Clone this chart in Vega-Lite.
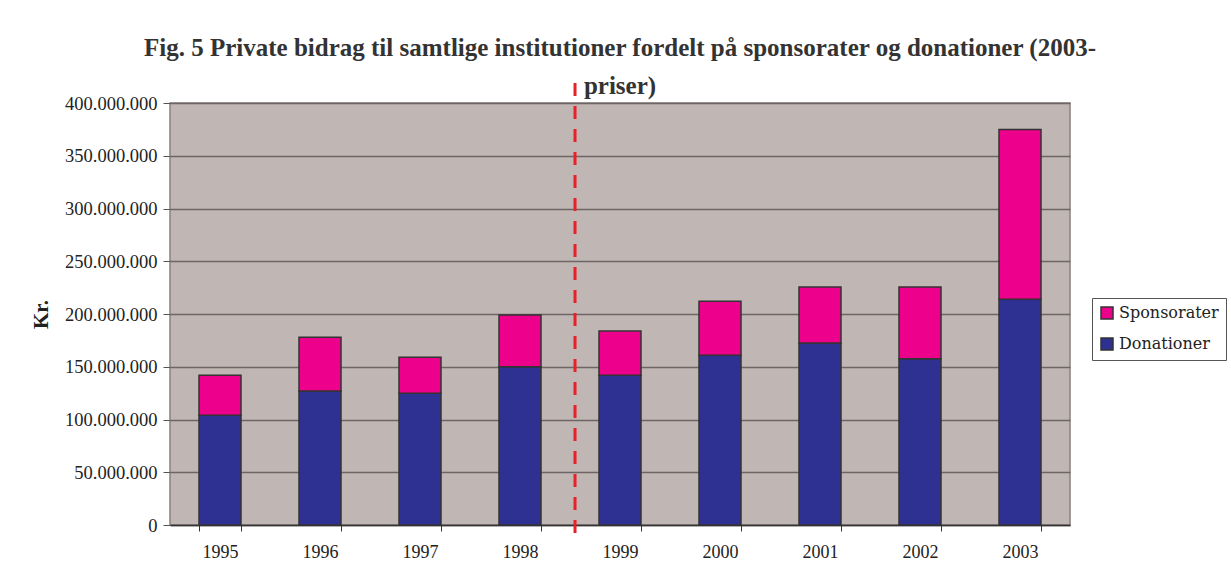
{
  "$schema": "https://vega.github.io/schema/vega-lite/v6.json",
  "width": 900,
  "height": 422,
  "autosize": {"type": "none"},
  "padding": {"left": 170, "top": 103, "right": 161, "bottom": 41},
  "background": "white",
  "config": {
    "font": "Liberation Serif",
    "locale": {"number": {"decimal": ",", "thousands": ".", "grouping": [3], "currency": ["", " kr."]}},
    "view": {"fill": "#c0b6b3", "stroke": "#8a807e", "strokeWidth": 1.5}
  },
  "title": {
    "text": ["Fig. 5 Private bidrag til samtlige institutioner fordelt på sponsorater og donationer (2003-", "priser)"],
    "font": "Liberation Serif",
    "fontSize": 25,
    "fontWeight": "bold",
    "color": "#333333",
    "anchor": "middle",
    "lineHeight": 38,
    "offset": -18
  },
  "datasets": {
    "bars": [
      {"year": "1995", "type": "Donationer", "value": 104000000},
      {"year": "1995", "type": "Sponsorater", "value": 38000000},
      {"year": "1996", "type": "Donationer", "value": 127000000},
      {"year": "1996", "type": "Sponsorater", "value": 51000000},
      {"year": "1997", "type": "Donationer", "value": 125000000},
      {"year": "1997", "type": "Sponsorater", "value": 34000000},
      {"year": "1998", "type": "Donationer", "value": 150000000},
      {"year": "1998", "type": "Sponsorater", "value": 49000000},
      {"year": "1999", "type": "Donationer", "value": 142000000},
      {"year": "1999", "type": "Sponsorater", "value": 42000000},
      {"year": "2000", "type": "Donationer", "value": 161000000},
      {"year": "2000", "type": "Sponsorater", "value": 51000000},
      {"year": "2001", "type": "Donationer", "value": 172500000},
      {"year": "2001", "type": "Sponsorater", "value": 53000000},
      {"year": "2002", "type": "Donationer", "value": 157500000},
      {"year": "2002", "type": "Sponsorater", "value": 68000000},
      {"year": "2003", "type": "Donationer", "value": 214000000},
      {"year": "2003", "type": "Sponsorater", "value": 161000000}
    ],
    "divider": [
      {"year": "1998", "top": 419000000, "bottom": -13000000}
    ]
  },
  "layer": [
    {
      "data": {"name": "bars"},
      "mark": {"type": "bar", "stroke": "#333333", "strokeWidth": 1.5},
      "encoding": {
        "x": {
          "field": "year", "type": "ordinal",
          "scale": {"paddingInner": 0.58, "paddingOuter": 0.29},
          "axis": {
            "title": null, "labelAngle": 0, "labelFontSize": 18, "labelColor": "#222222",
            "labelPadding": 12, "tickBand": "extent", "tickSize": 6, "tickColor": "#333333",
            "domainColor": "#333333", "domainWidth": 1.5
          }
        },
        "y": {
          "field": "value", "type": "quantitative", "stack": "zero",
          "scale": {"domain": [0, 400000000], "nice": false},
          "axis": {
            "title": "Kr.", "titleFontSize": 21, "titleFontWeight": "bold", "titleColor": "#222222",
            "titlePadding": 13,
            "format": ",d", "values": [0, 50000000, 100000000, 150000000, 200000000, 250000000, 300000000, 350000000, 400000000],
            "labelFontSize": 18.5, "labelColor": "#222222", "labelPadding": 6, "labelOverlap": false,
            "tickSize": 7, "tickColor": "#555555",
            "grid": true, "gridColor": "#6e6666", "gridWidth": 1.5,
            "domain": false
          }
        },
        "color": {
          "field": "type", "type": "nominal",
          "scale": {"domain": ["Sponsorater", "Donationer"], "range": ["#ec008c", "#2e3192"]},
          "legend": {
            "title": null, "orient": "none", "legendX": 922, "legendY": 195,
            "symbolType": "square", "symbolSize": 144, "symbolStrokeColor": "#333333", "symbolStrokeWidth": 1.5,
            "labelFont": "DejaVu Serif", "labelFontSize": 16, "labelColor": "#222222", "labelOffset": 4,
            "strokeColor": "#555555", "fillColor": "white", "padding": 7, "rowPadding": 13
          }
        },
        "order": {"field": "type", "sort": "ascending"}
      }
    },
    {
      "data": {"name": "divider"},
      "mark": {"type": "rule", "color": "#e8202a", "strokeWidth": 3, "strokeDash": [13, 10], "clip": false},
      "encoding": {
        "x": {"field": "year", "type": "ordinal", "bandPosition": 1.81},
        "y": {"field": "top", "type": "quantitative"},
        "y2": {"field": "bottom"}
      }
    }
  ]
}
